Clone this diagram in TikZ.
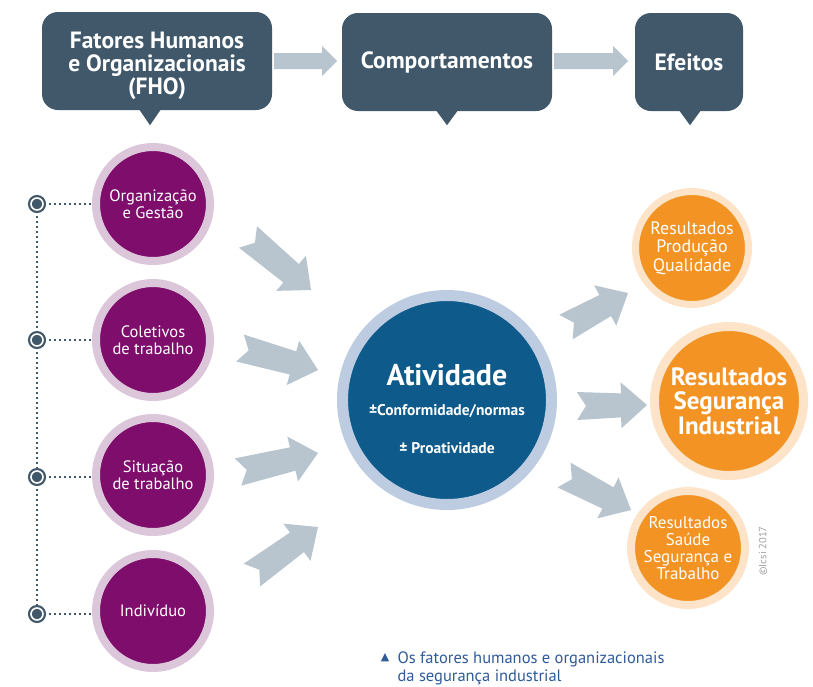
\documentclass[tikz,border=0pt]{standalone}
\usepackage{fontspec}
\setmainfont{PT Sans}
\newfontfamily\symfont{DejaVu Sans}
\usetikzlibrary{calc,positioning,shapes}

\definecolor{slate}{HTML}{40586A}
\definecolor{arrowgrey}{HTML}{B8C5CF}
\definecolor{fhopurple}{HTML}{7E0D6B}
\definecolor{fhoring}{HTML}{DCC6DA}
\definecolor{atvblue}{HTML}{0D5A8B}
\definecolor{atvring}{HTML}{BDCCE0}
\definecolor{resorange}{HTML}{F39324}
\definecolor{resring}{HTML}{FDE3C8}
\definecolor{capblue}{HTML}{2F5C99}

\tikzset{
  topbox/.style={fill=slate, rounded corners=16pt, text=white, align=center,
    font=\fontsize{23.5}{23}\selectfont\bfseries, minimum height=98pt, inner sep=0pt},
  bullet/.style={circle, fill=slate, draw=slate, line width=2.2pt,
    double=white, double distance=1.6pt, minimum size=12pt, inner sep=0pt},
  dotline/.style={slate, line width=2pt, dash pattern=on 2pt off 3pt},
  fhodisc/.style={circle, fill=fhopurple, draw=fhoring, line width=8pt,
    minimum size=114pt, inner sep=0pt, text=white, align=center,
    font=\fontsize{16.5}{16.5}\selectfont},
  atvdisc/.style={circle, fill=atvblue, draw=atvring, line width=11pt,
    minimum size=209pt, inner sep=0pt},
  resdisc/.style={circle, fill=resorange, draw=resring, line width=7pt,
    minimum size=113pt, inner sep=0pt, text=white, align=center,
    font=\fontsize{18}{18.5}\selectfont},
}

% fat grey arrow with notched tail: #1 tail, #2 tip
\newcommand{\fatarrow}[2]{%
  \coordinate (fa-h) at ($(#2)!26pt!(#1)$);
  \coordinate (fa-n) at ($(#1)!9pt!(#2)$);
  \fill[arrowgrey] ($(#1)!14pt!90:(#2)$) -- (fa-n) -- ($(#1)!14pt!-90:(#2)$)
    -- ($(fa-h)!12pt!-90:(#2)$) -- ($(fa-h)!23pt!-90:(#2)$) -- (#2)
    -- ($(fa-h)!23pt!90:(#2)$) -- ($(fa-h)!12pt!90:(#2)$) -- cycle;
}

\begin{document}
\begin{tikzpicture}[x=1pt,y=-1pt]
  \useasboundingbox (0,0) rectangle (813,686);
  \fill[white] (0,0) rectangle (813,686);

% Top row boxes
  \node[topbox, minimum width=230pt, text height=72pt] (fho) at (157,61)
    {Fatores Humanos\\e Organizacionais\\(FHO)};
  \node[topbox, minimum width=210pt] (comp) at (447,62) {Comportamentos};
  \node[topbox, minimum width=108pt] (eff) at (689,62) {Efeitos};
% Box pointers
  \fill[slate] ($(fho.south)+(-18,-1)$) -- ++(22,0) -- ++(-11,16) -- cycle;
  \fill[slate] ($(comp.south)+(-11,-1)$) -- ++(22,0) -- ++(-11,15) -- cycle;
  \fill[slate] ($(eff.south)+(-10,-1)$) -- ++(22,0) -- ++(-11,15) -- cycle;
% Arrows between boxes
  \fill[arrowgrey] ($(fho.east)+(2,-8)$) -- ++(48,0) -- ++(0,-7) -- ++(15,15)
    -- ++(-15,15) -- ++(0,-7) -- ++(-48,0) -- cycle;
  \fill[arrowgrey] ($(comp.east)+(2,-9)$) -- ++(59,0) -- ++(0,-7) -- ++(15,15)
    -- ++(-15,15) -- ++(0,-7) -- ++(-59,0) -- cycle;

% FHO circles
  \node[fhodisc] (org) at (153,204) {Organização\\e Gestão};
  \node[fhodisc] (col) at (153,340) {Coletivos\\de trabalho};
  \node[fhodisc] (sit) at (153,475) {Situação\\de trabalho};
  \node[fhodisc] (ind) at (153,611) {Indivíduo};
% Bullets on the left
  \node[bullet] (b1) at (37,204) {};
  \node[bullet] (b2) at (37,340) {};
  \node[bullet] (b3) at (37,477) {};
  \node[bullet] (b4) at (37,614) {};
% Dotted links
  \draw[dotline] (b1) -- (b2);
  \draw[dotline] (b2) -- (b3);
  \draw[dotline] (b3) -- (b4);
  \draw[dotline] (b1) -- (b1 -| org.west);
  \draw[dotline] (b2) -- (b2 -| col.west);
  \draw[dotline] (b3) -- (b3 -| sit.west);
  \draw[dotline] (b4) -- (b4 -| ind.west);

% Activity circle
  \node[atvdisc] (atv) at (447,400) {};
  \node[text=white, font=\fontsize{30}{32}\selectfont\bfseries] (atvt)
    at ($(atv.center)+(0,-25)$) {Atividade};
  \node[text=white, font=\fontsize{15.5}{17}\selectfont\bfseries] (conf)
    at ($(atv.center)+(0,11)$) {±Conformidade/normas};
  \node[text=white, font=\fontsize{15.5}{17}\selectfont\bfseries] (proa)
    at ($(atv.center)+(0,48)$) {± Proatividade};

% Result circles
  \node[resdisc] (rpq) at (692,248) {Resultados\\Produção\\Qualidade};
  \node[resdisc, line width=9pt, minimum size=149pt,
    font=\fontsize{25}{24.5}\selectfont\bfseries] (rsi) at (729,401)
    {Resultados\\Segurança\\Industrial};
  \node[resdisc, line width=8pt, minimum size=114pt,
    font=\fontsize{17}{17}\selectfont] (rsst) at (688,548)
    {Resultados\\Saúde\\Segurança e\\Trabalho};

% Fat arrows into the activity
  \coordinate (a1t) at (248,237); \coordinate (a1p) at (311,290);
  \coordinate (a2t) at (240,348); \coordinate (a2p) at (318,370);
  \coordinate (a3t) at (238,472); \coordinate (a3p) at (318,453);
  \coordinate (a4t) at (252,575); \coordinate (a4p) at (318,527);
  \fatarrow{a1t}{a1p}
  \fatarrow{a2t}{a2p}
  \fatarrow{a3t}{a3p}
  \fatarrow{a4t}{a4p}
% Fat arrows out to the results
  \coordinate (a5t) at (566,327); \coordinate (a5p) at (628,293);
  \coordinate (a6t) at (577,406); \coordinate (a6p) at (647,405);
  \coordinate (a7t) at (564,475); \coordinate (a7p) at (631,510);
  \fatarrow{a5t}{a5p}
  \fatarrow{a6t}{a6p}
  \fatarrow{a7t}{a7p}

% Copyright
  \node[rotate=90, text=gray!75, font=\fontsize{10.5}{10.5}\selectfont] (copy)
    at (763,551) {©Icsi 2017};
% Caption
  \node[text=capblue, font=\symfont\fontsize{11}{11}\selectfont] (tri)
    at (385,658) {▲};
  \node[anchor=west, align=left, text=capblue,
    font=\fontsize{16.5}{18}\selectfont] (cap) at (394,668)
    {Os fatores humanos e organizacionais\\da segurança industrial};
\end{tikzpicture}
\end{document}
